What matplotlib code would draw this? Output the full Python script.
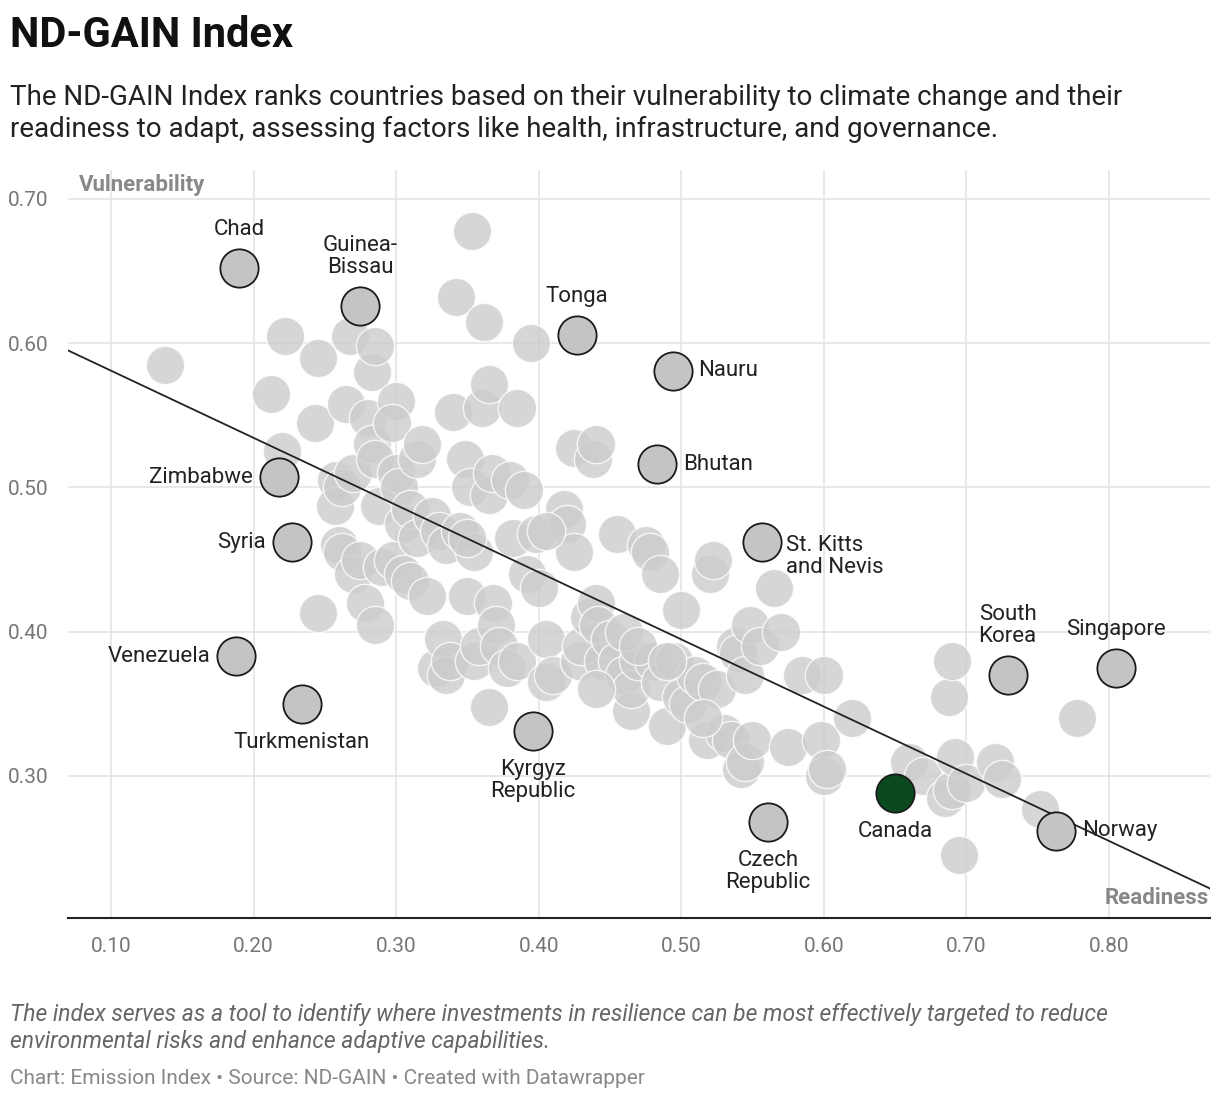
import matplotlib
matplotlib.use("Agg")
import matplotlib.pyplot as plt

plt.rcParams['font.family'] = ['Roboto', 'DejaVu Sans']

# background countries (readiness, vulnerability)
bg_x = [0.138,0.212,0.220,0.222,0.245,0.243,0.245,0.258,0.257,0.262,0.26,0.262,0.265,0.268,0.270,0.27,0.275,0.278,0.28,0.283,
        0.285,0.283,0.285,0.288,0.29,0.285,0.30,0.297,0.30,0.302,0.305,0.298,0.305,0.31,0.31,0.315,0.318,0.315,0.322,0.325,
        0.33,0.335,0.328,0.333,0.335,0.338,0.34,0.342,0.345,0.348,0.35,0.352,0.353,0.355,0.355,0.358,0.36,0.362,0.365,0.365,
        0.367,0.368,0.37,0.372,0.365,0.378,0.38,0.382,0.385,0.385,0.39,0.392,0.395,0.398,0.40,0.405,0.405,0.41,0.418,0.42,
        0.425,0.425,0.428,0.43,0.435,0.438,0.44,0.44,0.442,0.445,0.45,0.455,0.455,0.46,0.465,0.465,0.47,0.475,0.478,0.48,
        0.485,0.485,0.49,0.495,0.50,0.50,0.505,0.51,0.515,0.518,0.52,0.522,0.525,0.53,0.535,0.538,0.54,0.542,0.545,0.545,
        0.548,0.55,0.555,0.565,0.57,0.575,0.585,0.6,0.598,0.6,0.602,0.62,0.66,0.67,0.685,0.688,0.69,0.69,0.692,0.695,
        0.70,0.72,0.725,0.752,0.778,0.405,0.35,0.46,0.44,0.47,0.49,0.515]
bg_y = [0.585,0.565,0.525,0.605,0.590,0.545,0.413,0.505,0.487,0.500,0.46,0.455,0.558,0.605,0.51,0.44,0.45,0.42,0.548,0.58,
        0.598,0.53,0.52,0.487,0.445,0.405,0.56,0.545,0.51,0.50,0.475,0.45,0.44,0.435,0.485,0.52,0.53,0.465,0.425,0.48,
        0.47,0.46,0.375,0.395,0.37,0.38,0.552,0.632,0.47,0.52,0.425,0.5,0.678,0.455,0.38,0.39,0.555,0.615,0.572,0.495,
        0.51,0.42,0.405,0.39,0.348,0.375,0.505,0.465,0.555,0.38,0.498,0.44,0.6,0.468,0.43,0.395,0.365,0.37,0.485,0.475,
        0.527,0.455,0.38,0.39,0.41,0.52,0.53,0.42,0.405,0.38,0.395,0.468,0.38,0.37,0.345,0.36,0.38,0.46,0.455,0.38,
        0.44,0.365,0.335,0.38,0.415,0.355,0.35,0.37,0.365,0.325,0.44,0.45,0.36,0.33,0.325,0.39,0.385,0.305,0.31,0.37,
        0.405,0.325,0.39,0.43,0.4,0.32,0.37,0.37,0.325,0.3,0.305,0.34,0.31,0.3,0.285,0.355,0.38,0.29,0.313,0.245,
        0.295,0.31,0.298,0.277,0.34,0.47,0.465,0.40,0.36,0.39,0.38,0.34]

names = ['Chad', 'Guinea-\nBissau', 'Tonga', 'Nauru', 'Bhutan', 'Zimbabwe', 'Syria', 'St. Kitts\nand Nevis',
         'Venezuela', 'Turkmenistan', 'Kyrgyz\nRepublic', 'Czech\nRepublic', 'Norway', 'South\nKorea', 'Singapore']
lab_x = [0.19, 0.275, 0.427, 0.494, 0.483, 0.218, 0.227, 0.557, 0.188, 0.234, 0.396, 0.561, 0.763, 0.729, 0.805]
lab_y = [0.652, 0.626, 0.606, 0.581, 0.516, 0.507, 0.462, 0.462, 0.383, 0.350, 0.331, 0.268, 0.262, 0.370, 0.375]
# label placement: (dx pixels, dy pixels, ha, va)
lab_pos = [(0, 28, 'center', 'bottom'), (0, 28, 'center', 'bottom'), (0, 28, 'center', 'bottom'),
           (26, 0, 'left', 'center'), (26, 0, 'left', 'center'), (-26, 0, 'right', 'center'),
           (-26, 0, 'right', 'center'), (24, -14, 'left', 'center'), (-26, 0, 'right', 'center'),
           (0, -28, 'center', 'top'), (0, -28, 'center', 'top'), (0, -28, 'center', 'top'),
           (26, 0, 'left', 'center'), (0, 28, 'center', 'bottom'), (0, 28, 'center', 'bottom')]
canada = (0.65, 0.288)

fig = plt.figure(figsize=(12.2, 11.02), dpi=100)
ax = fig.add_axes([0.0557, 0.167, 0.9361, 0.6787])
ax.set_xlim(0.0698, 0.871)
ax.set_ylim(0.2016, 0.720)

S = 760
ax.scatter(bg_x, bg_y, s=S, c='#cccccc', alpha=0.8, edgecolors='white', linewidths=1, zorder=2)
ax.plot([0.0698, 0.871], [0.595, 0.222], color='#222222', lw=1.3, zorder=3)
ax.scatter(lab_x, lab_y, s=S, c='#c4c4c4', edgecolors='#1a1a1a', linewidths=1.3, zorder=4)
ax.scatter([canada[0]], [canada[1]], s=S, c='#0b4a1e', edgecolors='#1a1a1a', linewidths=1.3, zorder=5)

for n, x, y, (dx, dy, ha, va) in zip(names, lab_x, lab_y, lab_pos):
    ax.annotate(n, (x, y), xytext=(dx, dy), textcoords='offset pixels', ha=ha, va=va,
                fontsize=16, color='#222222', linespacing=1.05, zorder=6)
ax.annotate('Canada', canada, xytext=(0, -28), textcoords='offset pixels', ha='center', va='top',
            fontsize=16, color='#222222', zorder=6)

ax.set_xticks([0.1, 0.2, 0.3, 0.4, 0.5, 0.6, 0.7, 0.8])
ax.set_xticklabels([f'{v:.2f}' for v in ax.get_xticks()])
ax.set_yticks([0.3, 0.4, 0.5, 0.6, 0.7])
ax.set_yticklabels([f'{v:.2f}' for v in ax.get_yticks()])
ax.tick_params(length=0, labelsize=15, colors='#777777', pad=14)
ax.grid(color='#e4e4e4', lw=1.2, zorder=0)
for s in ['top', 'right', 'left']:
    ax.spines[s].set_visible(False)
ax.spines['bottom'].set_color('#222222')
ax.spines['bottom'].set_linewidth(1.5)

ax.text(0.01, 0.995, 'Vulnerability', transform=ax.transAxes, ha='left', va='top',
        fontsize=16, fontweight='bold', color='#888888')
ax.text(0.999, 0.012, 'Readiness', transform=ax.transAxes, ha='right', va='bottom',
        fontsize=16, fontweight='bold', color='#888888')

fig.text(0.008, 0.968, 'ND-GAIN Index', fontsize=30, fontweight='bold', color='#111111', va='center')
fig.text(0.008, 0.897, 'The ND-GAIN Index ranks countries based on their vulnerability to climate change and their\n'
         'readiness to adapt, assessing factors like health, infrastructure, and governance.',
         fontsize=20, color='#222222', va='center', linespacing=1.25)
fig.text(0.008, 0.067, 'The index serves as a tool to identify where investments in resilience can be most effectively targeted to reduce\n'
         'environmental risks and enhance adaptive capabilities.',
         fontsize=16.5, style='italic', color='#666666', va='center', linespacing=1.25)
fig.text(0.008, 0.021, 'Chart: Emission Index • Source: ND-GAIN • Created with Datawrapper',
         fontsize=15, color='#888888', va='center')

fig.savefig('out.png', dpi=100)
